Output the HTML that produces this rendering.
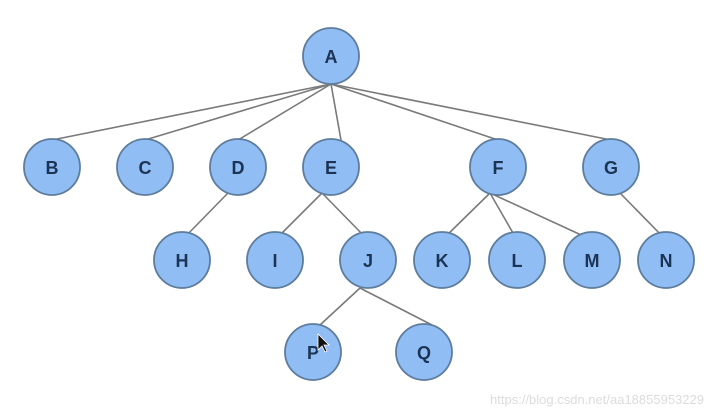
<!DOCTYPE html>
<html><head><style>html,body{margin:0;background:#fff;overflow:hidden}svg{display:block}</style></head><body>
<svg width="714" height="417" xmlns="http://www.w3.org/2000/svg">
<g stroke="#7a7a7a" stroke-width="1.6">
<line x1="331" y1="84" x2="52" y2="140"/>
<line x1="331" y1="84" x2="145" y2="140"/>
<line x1="331" y1="84" x2="238" y2="140"/>
<line x1="331" y1="84" x2="341" y2="140"/>
<line x1="331" y1="84" x2="498" y2="140"/>
<line x1="331" y1="84" x2="611" y2="140"/>
<line x1="228" y1="193" x2="182" y2="240"/>
<line x1="322" y1="193" x2="275" y2="240"/>
<line x1="322" y1="193" x2="368" y2="240"/>
<line x1="490" y1="193" x2="442" y2="240"/>
<line x1="490" y1="193" x2="517" y2="240"/>
<line x1="490" y1="193" x2="592" y2="240"/>
<line x1="620" y1="193" x2="666" y2="240"/>
<line x1="360" y1="288" x2="320" y2="325"/>
<line x1="360" y1="288" x2="432" y2="325"/>
</g>
<g fill="#90bdf4" stroke="#5e7c9c" stroke-width="1.8">
<circle cx="331" cy="56" r="28"/>
<circle cx="52" cy="167" r="28"/><circle cx="145" cy="167" r="28"/><circle cx="238" cy="167" r="28"/><circle cx="331" cy="167" r="28"/><circle cx="498" cy="167" r="28"/><circle cx="611" cy="167" r="28"/>
<circle cx="182" cy="260" r="28"/><circle cx="275" cy="260" r="28"/><circle cx="368" cy="260" r="28"/><circle cx="442" cy="260" r="28"/><circle cx="517" cy="260" r="28"/><circle cx="592" cy="260" r="28"/><circle cx="666" cy="260" r="28"/>
<circle cx="313" cy="352" r="28"/><circle cx="424" cy="352" r="28"/>
</g>
<g font-family="Liberation Sans, sans-serif" font-weight="bold" font-size="18" fill="#1c3454" text-anchor="middle">
<text x="331" y="63">A</text>
<text x="52" y="174">B</text><text x="145" y="174">C</text><text x="238" y="174">D</text><text x="331" y="174">E</text><text x="498" y="174">F</text><text x="611" y="174">G</text>
<text x="182" y="267">H</text><text x="275" y="267">I</text><text x="368" y="267">J</text><text x="442" y="267">K</text><text x="517" y="267">L</text><text x="592" y="267">M</text><text x="666" y="267">N</text>
<text x="313" y="359">P</text><text x="424" y="359">Q</text>
</g>
<path d="M318 334 L318 350 L322 346 L325 352 L327 351 L324 345 L329 345 Z" fill="#111" stroke="#fff" stroke-width="0.8"/>
<text x="704" y="404" text-anchor="end" font-family="Liberation Sans, sans-serif" font-size="13" fill="#dcdcdc">https://blog.csdn.net/aa18855953229</text>
</svg>
</body></html>
